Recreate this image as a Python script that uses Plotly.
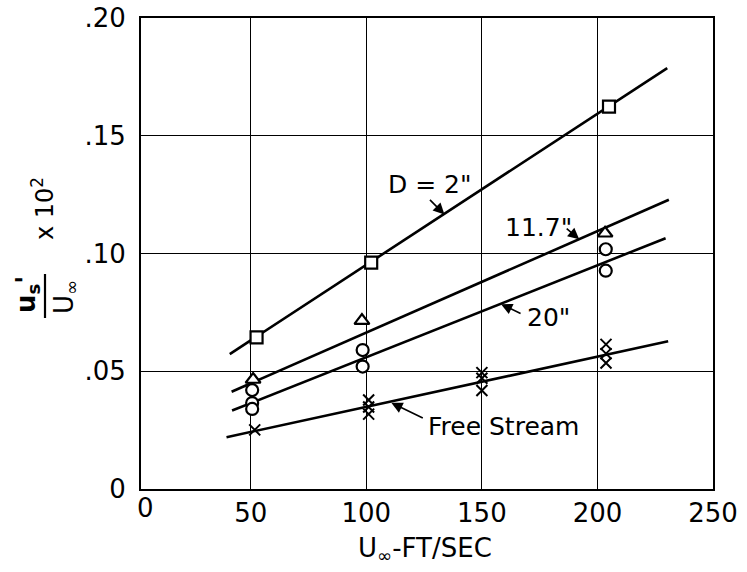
import plotly.graph_objects as go

# ---------------- data ----------------
# D = 2"  (squares)
sq_x = [52.5, 102.1, 205.0]
sq_y = [0.0644, 0.0961, 0.1624]
# D = 11.7" (triangles)
tri_x = [51.0, 98.1, 203.3]
tri_y = [0.0465, 0.0715, 0.1086]
# D = 20" (circles)
cir_x = [50.6, 50.6, 50.6, 98.4, 98.4, 203.6, 203.6]
cir_y = [0.0420, 0.0365, 0.0340, 0.0590, 0.0520, 0.1018, 0.0927]
# Free stream (crosses)
fs_x = [51.7, 101.0, 101.0, 101.0, 150.0, 150.0, 150.0, 203.7, 203.7, 203.7]
fs_y = [0.0251, 0.0378, 0.0348, 0.0318, 0.0494, 0.0470, 0.0418, 0.0614, 0.0575, 0.0535]

# fitted straight lines (end points)
d2_fit_x = [40.9, 230.2]
d2_fit_y = [0.0573, 0.1787]
d117_fit_x = [41.7, 230.9]
d117_fit_y = [0.0413, 0.1228]
d20_fit_x = [41.9, 229.5]
d20_fit_y = [0.0333, 0.1065]
fs_fit_x = [39.5, 230.6]
fs_fit_y = [0.0220, 0.0627]

x_tickvals = [50, 100, 150, 200, 250]
x_ticktext = ["50", "100", "150", "200", "250"]
y_tickvals = [0, 0.05, 0.10, 0.15, 0.20]
y_ticktext = ["0", ".05", ".10", ".15", ".20"]

# ---------------- layout geometry ----------------
FW, FH = 747, 572
L, R, T, B = 141, 713, 18, 489
PW, PH = R - L, B - T
FONT = "DejaVu Sans"


def px(xp):
    return (xp - L) / PW


def py(yp):
    return (B - yp) / PH


fig = go.Figure()

LW = 2.6
for fx, fy in [(d2_fit_x, d2_fit_y), (d117_fit_x, d117_fit_y),
               (d20_fit_x, d20_fit_y), (fs_fit_x, fs_fit_y)]:
    fig.add_trace(go.Scatter(x=fx, y=fy, mode="lines",
                             line=dict(color="black", width=LW),
                             showlegend=False, hoverinfo="skip"))

mk_line = dict(color="black", width=2.2)
fig.add_trace(go.Scatter(x=sq_x, y=sq_y, mode="markers", showlegend=False,
                         marker=dict(symbol="square", size=12, color="white", line=mk_line)))
fig.add_trace(go.Scatter(x=tri_x, y=tri_y, mode="markers", showlegend=False,
                         marker=dict(symbol="triangle-up", size=13, color="white", line=mk_line)))
fig.add_trace(go.Scatter(x=cir_x, y=cir_y, mode="markers", showlegend=False,
                         marker=dict(symbol="circle", size=12, color="white", line=mk_line)))
fig.add_trace(go.Scatter(x=fs_x, y=fs_y, mode="markers", showlegend=False,
                         marker=dict(symbol="x-thin-open", size=11, color="black",
                                     line=dict(color="black", width=2))))

ann = []


def text_ann(text, xp, yp, size, angle=0):
    return dict(text=text, x=px(xp), y=py(yp), xref="paper", yref="paper",
                showarrow=False, textangle=angle, xanchor="center", yanchor="middle",
                font=dict(family=FONT, size=size, color="black"))


# curve labels
for text, xp, yp in [('D = 2"', 430, 184), ('11.7"', 538, 227),
                     ('20"', 548, 317), ("Free Stream", 503, 426)]:
    ann.append(text_ann(text, xp, yp, 25))

# arrows (head on the line, tail offset in pixels)
for hx, hy, axo, ayo in [(133.8, 0.1166, -16, -16), (192.1, 0.1060, -14, -12),
                         (158.3, 0.0785, 21, 10), (110.8, 0.0366, 33, 16)]:
    ann.append(dict(text="", x=hx, y=hy, xref="x", yref="y", ax=axo, ay=ayo,
                    showarrow=True, arrowhead=2, arrowsize=1.4, arrowwidth=1.6,
                    arrowcolor="black", standoff=0))

# x axis "0" label and axis title
ann.append(text_ann("0", 145, 508, 26))
ann.append(text_ann("U<sub>∞</sub>-FT/SEC", 425, 549, 26))

# y axis title as a fraction
ann.append(text_ann("<b>u<sub>s</sub>'</b>", 27, 295, 26, -90))
ann.append(text_ann("U<sub>∞</sub>", 65, 297, 26, -90))
ann.append(text_ann("x 10<sup>2</sup>", 43, 209, 24, -90))

shapes = [dict(type="line", xref="paper", yref="paper", x0=px(45), x1=px(45),
               y0=py(274), y1=py(318), line=dict(color="black", width=2.2))]

fig.update_layout(
    width=FW, height=FH, autosize=False,
    margin=dict(l=L, r=FW - R, t=T, b=FH - B, autoexpand=False),
    paper_bgcolor="white", plot_bgcolor="white",
    annotations=ann, shapes=shapes, showlegend=False,
    font=dict(family=FONT, color="black"),
)
fig.update_xaxes(range=[2.5, 250], tickvals=x_tickvals, ticktext=x_ticktext,
                 showgrid=True, gridcolor="black", gridwidth=1, automargin=False,
                 showline=True, linecolor="black", linewidth=2, mirror=True,
                 ticks="", zeroline=False, ticklabelstandoff=0,
                 tickfont=dict(family=FONT, size=26, color="black"))
fig.update_yaxes(range=[0, 0.20], tickvals=y_tickvals, ticktext=y_ticktext,
                 showgrid=True, gridcolor="black", gridwidth=1, automargin=False,
                 showline=True, linecolor="black", linewidth=2, mirror=True,
                 ticks="", zeroline=False, ticklabelstandoff=8,
                 tickfont=dict(family=FONT, size=26, color="black"))

fig.write_html("out.html")
